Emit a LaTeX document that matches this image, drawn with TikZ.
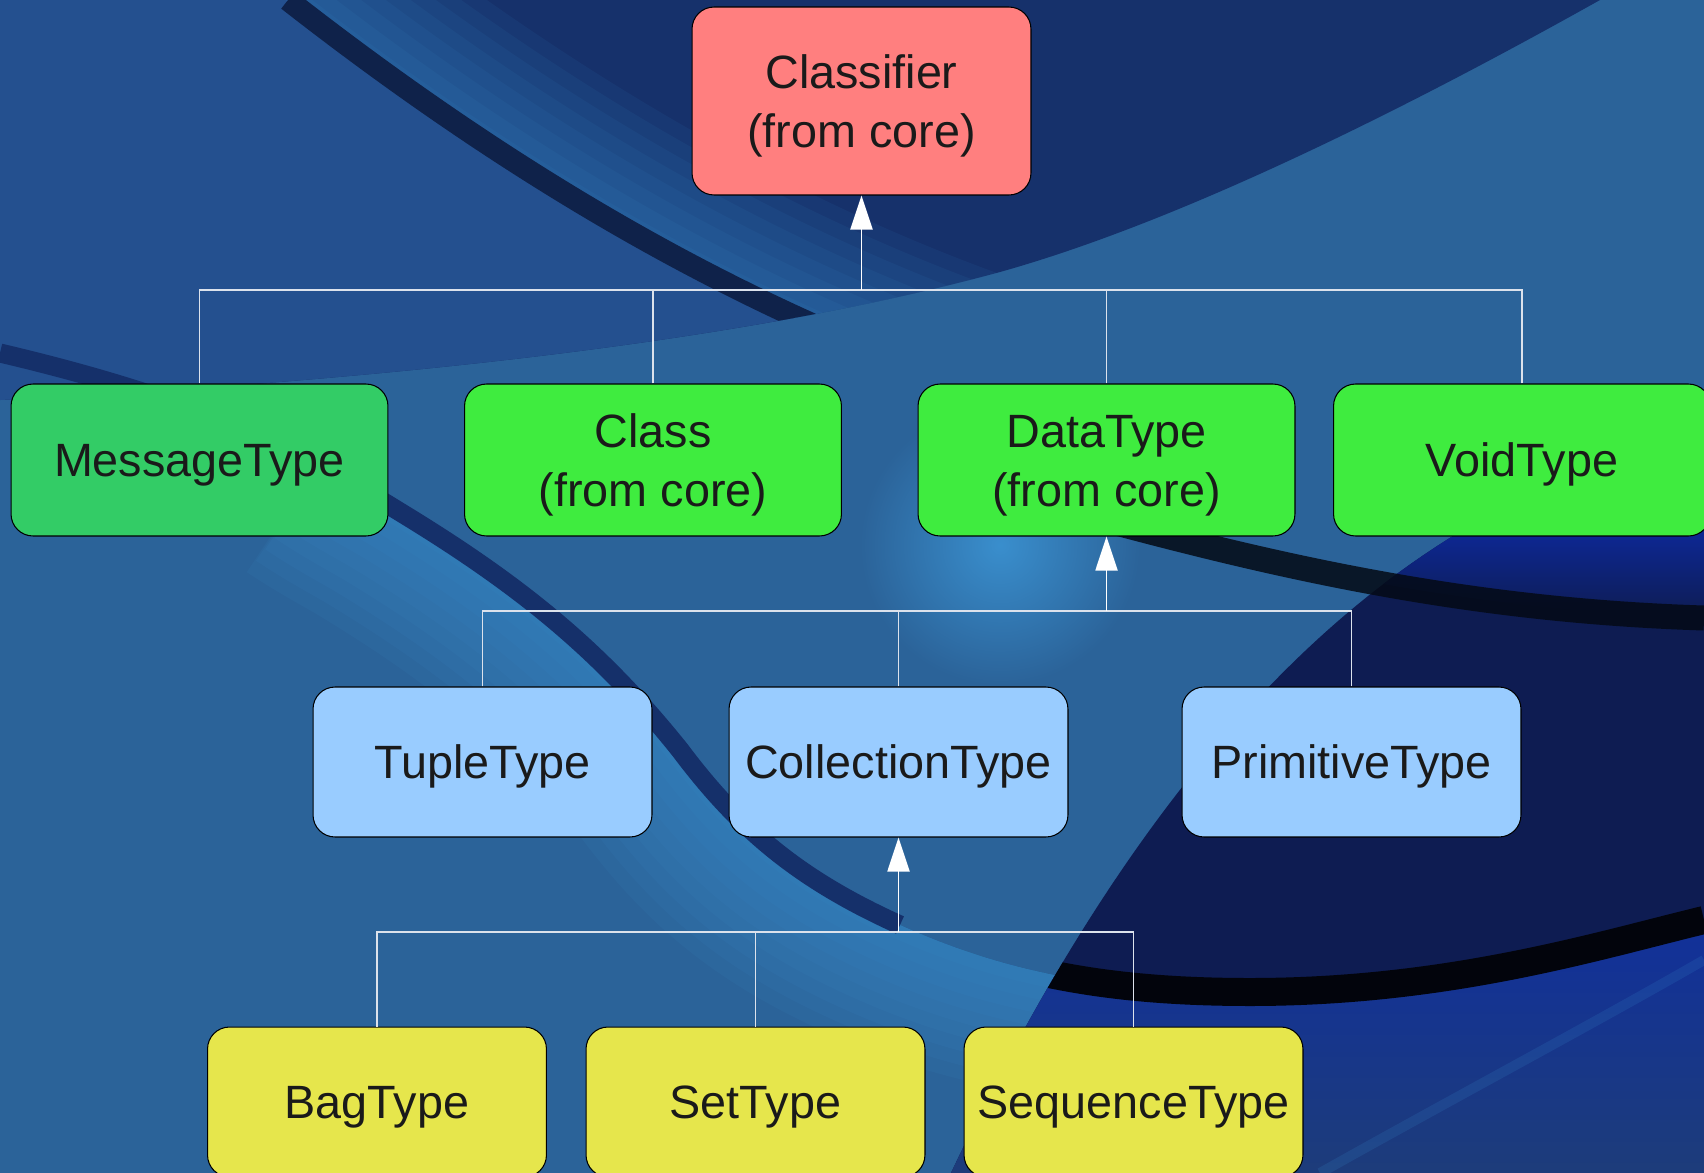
\documentclass[tikz,border=0pt]{standalone}
\usepackage{fontspec}
\setmainfont{Liberation Sans}
\usepackage{tikz}
\usepackage{xcolor}
\usetikzlibrary{arrows.meta}

\definecolor{coreRed}{HTML}{FF7F7F}
\definecolor{msgGreen}{HTML}{33CC66}
\definecolor{coreGreen}{HTML}{3FEC3F}
\definecolor{typeBlue}{HTML}{99CCFF}
\definecolor{collYellow}{HTML}{E6E64C}
\definecolor{inkGray}{HTML}{1A1A1A}
\definecolor{busGray}{HTML}{DCE2EC}
\definecolor{bgMid}{HTML}{2B6399}
\definecolor{bgLeft}{HTML}{24508F}
\definecolor{bgDark}{HTML}{16316B}
\definecolor{bgNavy}{HTML}{0E1C52}
\definecolor{bgRoyal}{HTML}{0C2BA8}
\definecolor{bgLow}{HTML}{1D3C7A}
\definecolor{bgGlow}{HTML}{3C96D6}
\definecolor{bgStripe}{HTML}{15306A}

\begin{document}
\begin{tikzpicture}[x=0.02cm,y=-0.02cm]%
  \tikzstyle{box}=[rectangle,rounded corners=0.44cm,draw=black,line width=0.6pt,inner sep=0,text=inkGray,font=\fontsize{26.6}{33.5}\selectfont]
  \tikzstyle{one}=[text height=19pt,text depth=0pt]
  \tikzstyle{two}=[align=center,text height=52.5pt,text depth=0pt]
  \tikzstyle{wide}=[minimum width=7.54cm,minimum height=3.04cm]
  \tikzstyle{narrow}=[minimum width=6.78cm,minimum height=3cm]
  \tikzstyle{bus}=[draw=busGray,line width=0.6pt]
  \tikzstyle{isa}=[draw=white,line width=1.1pt,-{Triangle[length=0.68cm,width=0.44cm,fill=white]}]
  \tikzstyle{haze}=[bgGlow,opacity=.08]
  \useasboundingbox (0,0) rectangle (1704,1173);
  \clip (0,0) rectangle (1704,1173);
  % backdrop
  \fill[bgMid] (0,0) rectangle (1704,1173);
  \begin{scope}
    \clip (0,0) -- (1600,0) .. controls (1350,140) and (1150,230) .. (1000,272)
      .. controls (750,340) and (400,380) .. (0,400) -- cycle;
    \fill[bgDark] (0,0) rectangle (1704,420);
    \fill[bgLeft] (0,0) -- (288,0) .. controls (480,150) and (700,290) .. (950,380) -- (0,420) -- cycle;
    \foreach \w in {0.3,0.6,...,2.7}
      \draw[haze,line width=\w cm,shift={({14*\w},{-20*\w})}] (288,0) .. controls (480,150) and (700,290) .. (950,380);
    \draw[bgStripe!70!black,line width=0.44cm] (288,0) .. controls (480,150) and (700,290) .. (950,380);
  \end{scope}
  \shade[inner color=bgGlow!85!bgMid,outer color=bgMid] (1000,545) circle (140);
  \begin{scope}
    \clip (0,353) .. controls (200,400) and (300,450) .. (400,512)
      .. controls (520,585) and (600,650) .. (680,750)
      .. controls (740,830) and (800,880) .. (900,925)
      .. controls (1000,970) and (1100,992) .. (1250,992)
      .. controls (1450,992) and (1600,945) .. (1704,920) -- (1704,1173) -- (0,1173) -- cycle;
    \foreach \w in {0.3,0.6,...,3}
      \draw[haze,line width=\w cm,shift={({-17*\w},{17*\w})}] (330,470) .. controls (360,490) and (380,500) .. (400,512)
        .. controls (520,585) and (600,650) .. (680,750)
        .. controls (740,830) and (800,880) .. (900,925)
        .. controls (1000,970) and (1100,992) .. (1250,992);
  \end{scope}
  \begin{scope}
    \clip (951,1173) .. controls (1080,900) and (1250,650) .. (1480,520) -- (1704,420) -- (1704,1173) -- cycle;
    \fill[bgNavy] (900,400) rectangle (1704,1173);
    \shade[top color=bgRoyal,bottom color=bgNavy] (1000,520) -- (1050,505) .. controls (1250,560) and (1450,610) .. (1704,618) -- (1704,520) -- cycle;
    \shade[top color=bgRoyal!70!bgLow,bottom color=bgLow] (900,925)
      .. controls (1000,970) and (1100,992) .. (1250,992)
      .. controls (1450,992) and (1600,945) .. (1704,920) -- (1704,1173) -- (900,1173) -- cycle;
    \draw[bgGlow,line width=0.2cm,opacity=.15] (1320,1173) .. controls (1450,1100) and (1600,1020) .. (1704,960);
    \draw[black!85!bgNavy,line width=0.56cm] (900,925)
      .. controls (1000,970) and (1100,992) .. (1250,992)
      .. controls (1450,992) and (1600,945) .. (1704,920);
  \end{scope}
  \draw[bgStripe,line width=0.38cm] (0,353) .. controls (200,400) and (300,450) .. (400,512)
    .. controls (520,585) and (600,650) .. (680,750)
    .. controls (740,830) and (800,880) .. (900,925);
  \draw[black!80!bgStripe,line width=0.5cm,opacity=.85] (1050,505) .. controls (1250,560) and (1450,610) .. (1704,618);
  % classes
  \node(cf)[box,two,narrow,minimum height=3.76cm,fill=coreRed] at (861.5,101) {Classifier\\(from core)};
  \node(mt)[box,one,wide,fill=msgGreen] at (199.5,460) {MessageType};
  \node(cl)[box,two,wide,fill=coreGreen] at (653,460) {Class\\(from core)};
  \node(dt)[box,two,wide,fill=coreGreen] at (1106.5,460) {DataType\\(from core)};
  \node(vt)[box,one,wide,fill=coreGreen] at (1522,460) {VoidType};
  \node(tt)[box,one,narrow,fill=typeBlue] at (482.5,762) {TupleType};
  \node(ct)[box,one,narrow,fill=typeBlue] at (898.5,762) {CollectionType};
  \node(pt)[box,one,narrow,fill=typeBlue] at (1351.5,762) {PrimitiveType};
  \node(bt)[box,one,narrow,fill=collYellow] at (377,1102) {BagType};
  \node(st)[box,one,narrow,fill=collYellow] at (755.5,1102) {SetType};
  \node(qt)[box,one,narrow,fill=collYellow] at (1133.5,1102) {SequenceType};
  % generalisations
  \coordinate(j1) at (861.5,290);
  \coordinate(j2) at (1106.5,611);
  \coordinate(j3) at (898.5,932);
  \draw[bus] (mt.north) |- (j1);
  \draw[bus] (cl.north) |- (j1);
  \draw[bus] (dt.north) |- (j1);
  \draw[bus] (vt.north) |- (j1);
  \draw[isa] (j1) -- (cf.south);
  \draw[bus] (tt.north) |- (j2);
  \draw[bus] (ct.north) |- (j2);
  \draw[bus] (pt.north) |- (j2);
  \draw[isa] (j2) -- (dt.south);
  \draw[bus] (bt.north) |- (j3);
  \draw[bus] (st.north) |- (j3);
  \draw[bus] (qt.north) |- (j3);
  \draw[isa] (j3) -- (ct.south);
\end{tikzpicture}
\end{document}
